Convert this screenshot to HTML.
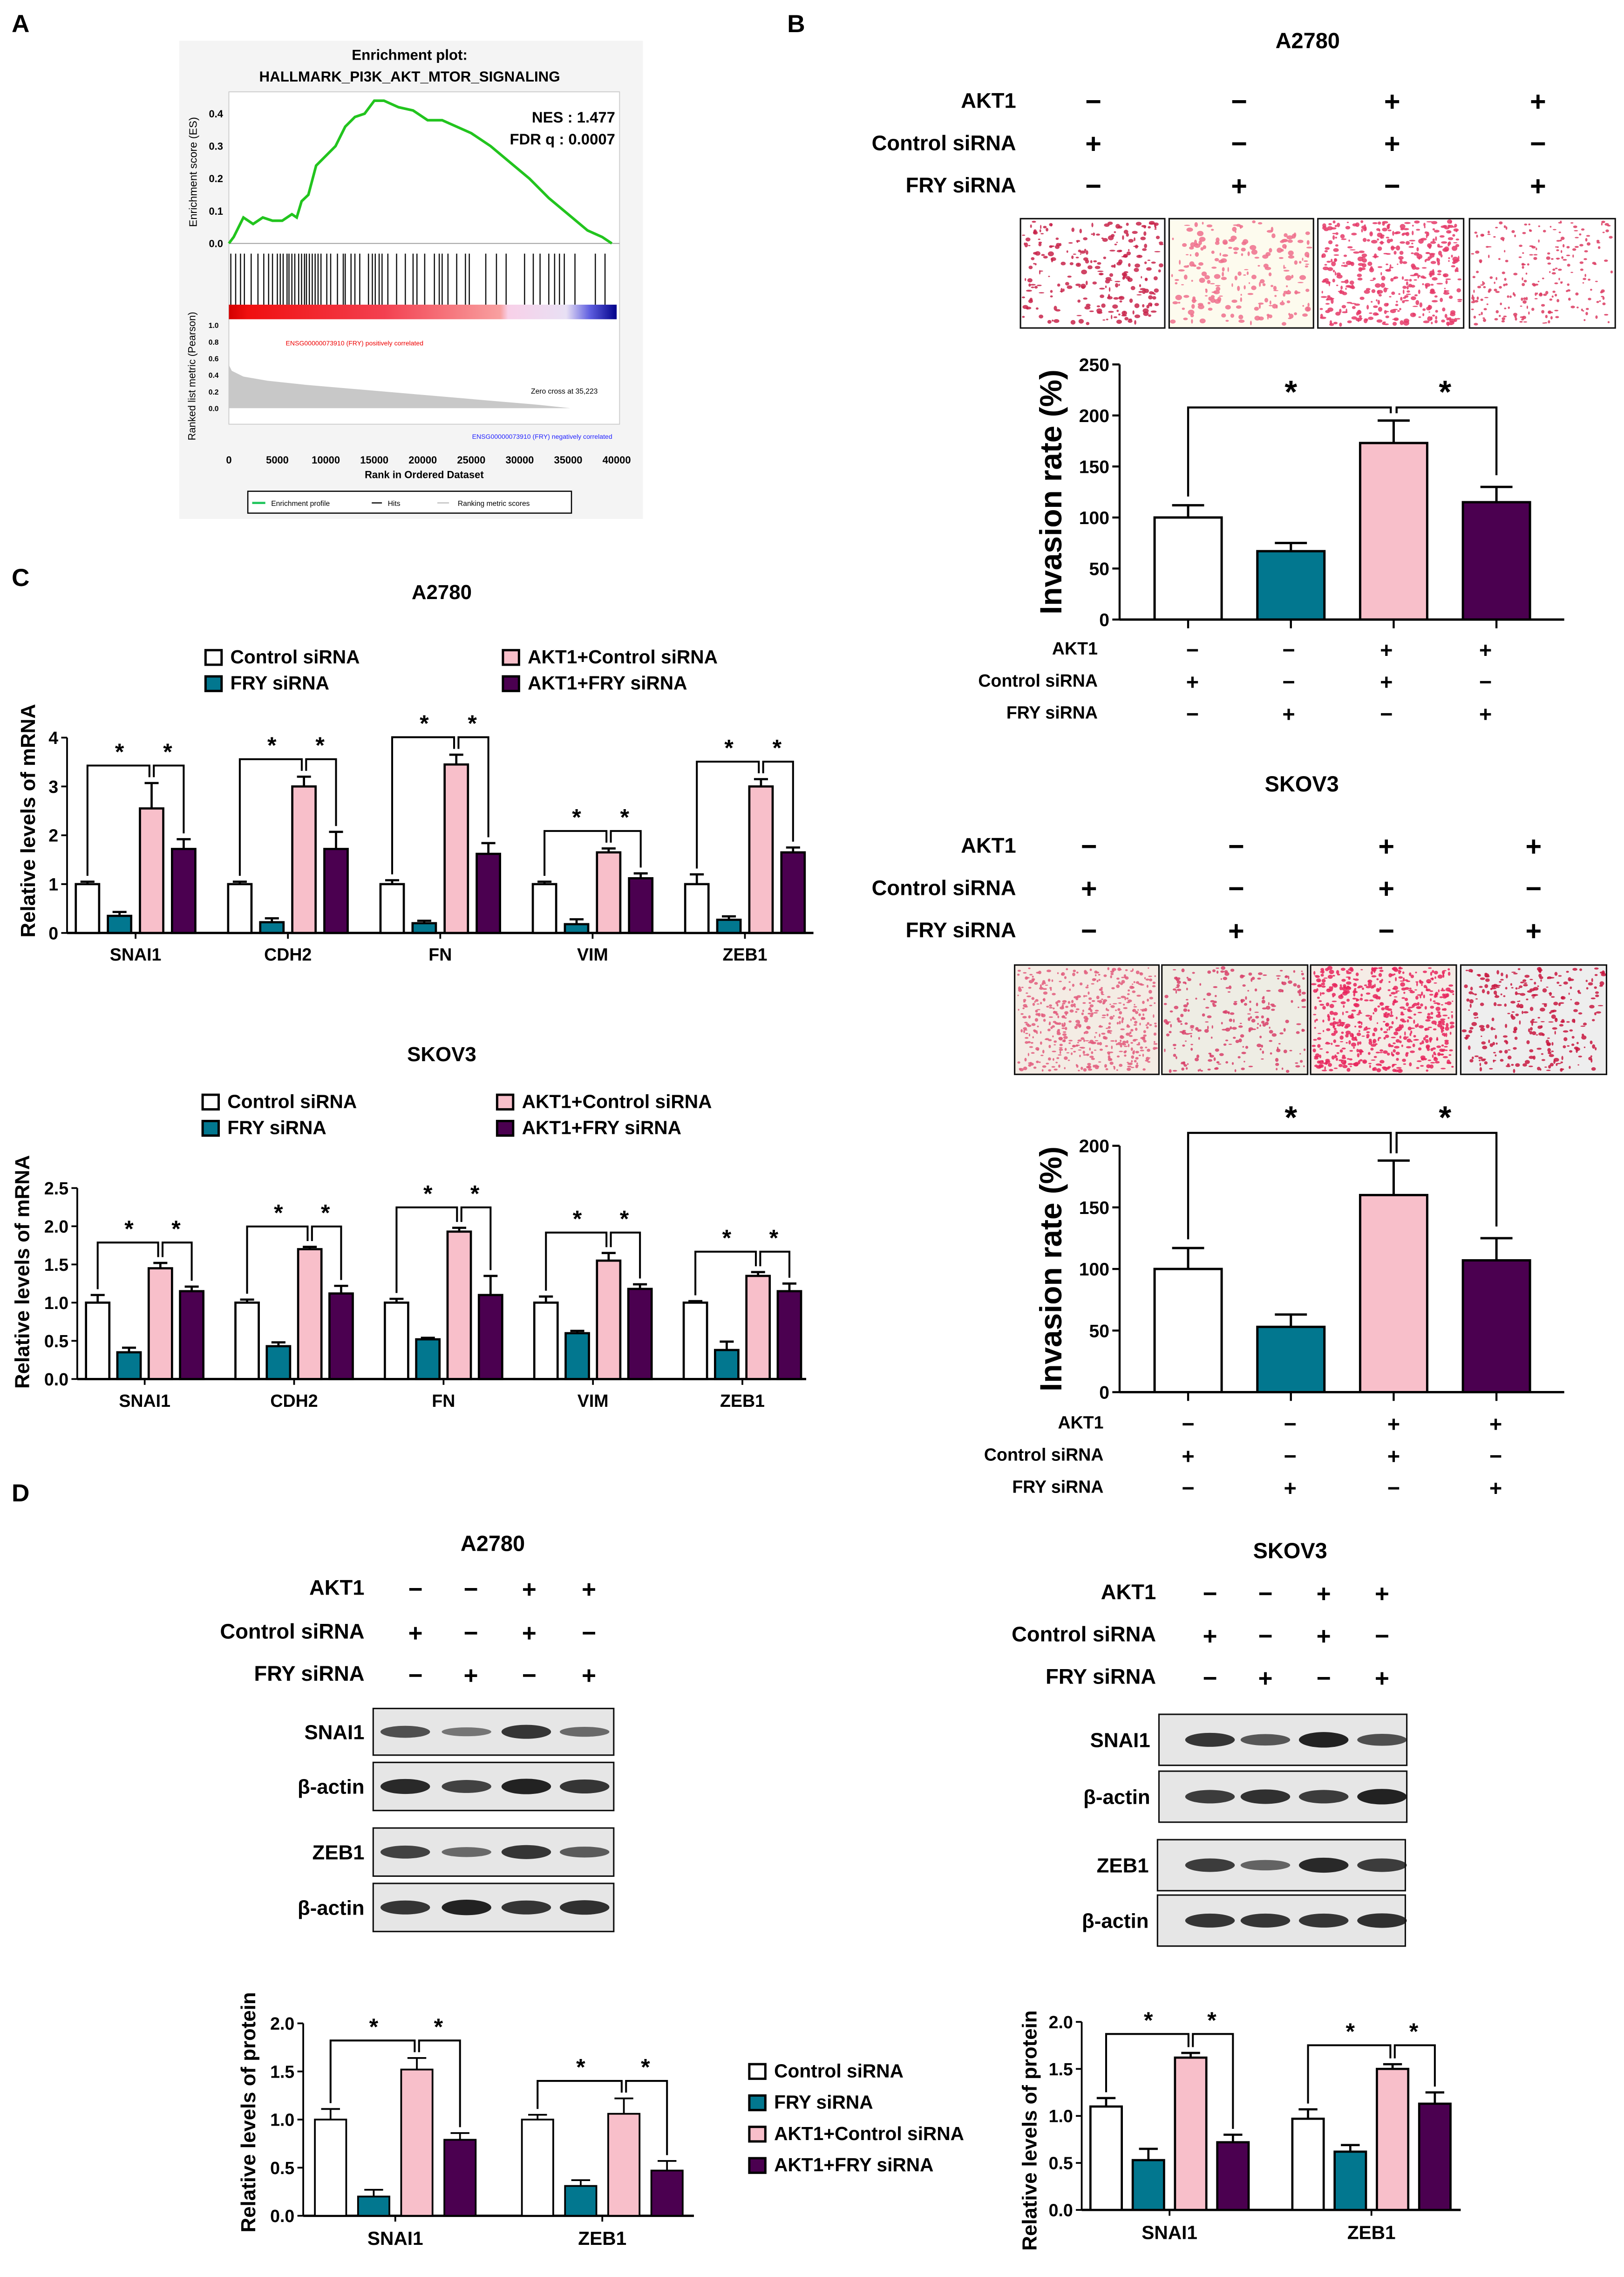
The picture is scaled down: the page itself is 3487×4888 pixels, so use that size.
<!DOCTYPE html>
<html><head><meta charset="utf-8"><style>
html,body{margin:0;padding:0;background:#fff;}
svg{display:block;}
text{font-family:"Liberation Sans",Arial,sans-serif;font-weight:bold;fill:#000;}
</style></head><body>
<svg id="fig" width="3487" height="4888" viewBox="0 0 1114 1562" preserveAspectRatio="none" xmlns="http://www.w3.org/2000/svg">
<rect width="1114" height="1562" fill="#fff"/>
<!-- panel letters -->
<text x="8" y="22" font-size="17">A</text>
<text x="540" y="22" font-size="17">B</text>
<text x="8" y="402" font-size="17">C</text>
<text x="8" y="1030" font-size="17">D</text>

<!-- Panel A GSEA -->
<g id="gsea">
<rect x="123" y="28" width="318" height="328" fill="#f4f4f4"/>
<text x="281" y="41" font-size="10" text-anchor="middle">Enrichment plot:</text>
<text x="281" y="56" font-size="10" text-anchor="middle">HALLMARK_PI3K_AKT_MTOR_SIGNALING</text>
<rect x="157" y="63" width="268" height="228" fill="#fff" stroke="#ccc" stroke-width="0.6"/>
<text x="422" y="84" font-size="10.5" text-anchor="end" font-weight="normal" style="font-weight:bold">NES : 1.477</text>
<text x="422" y="99" font-size="10.5" text-anchor="end">FDR q : 0.0007</text>
<text x="0" y="0" font-size="7.5" transform="translate(135,118) rotate(-90)" text-anchor="middle" style="font-weight:normal">Enrichment score (ES)</text>
<text x="0" y="0" font-size="7" transform="translate(134,258) rotate(-90)" text-anchor="middle" style="font-weight:normal">Ranked list metric (Pearson)</text>
<text x="196" y="237" font-size="4.5" fill="#e00" style="fill:#e00;font-weight:normal">ENSG00000073910 (FRY) positively correlated</text>
<text x="420" y="301" font-size="4.5" text-anchor="end" style="fill:#22f;font-weight:normal">ENSG00000073910 (FRY) negatively correlated</text>
<text x="410" y="270" font-size="5" text-anchor="end" style="font-weight:normal">Zero cross at 35,223</text>
<text x="291" y="328" font-size="7" text-anchor="middle">Rank in Ordered Dataset</text>
<rect x="170" y="337" width="222" height="15" fill="#fff" stroke="#000" stroke-width="0.8"/>
<line x1="173" y1="345" x2="182" y2="345" stroke="#22c55e" stroke-width="1.5"/>
<text x="186" y="347" font-size="5" style="font-weight:normal">Enrichment profile</text>
<line x1="255" y1="345" x2="262" y2="345" stroke="#333" stroke-width="1"/>
<text x="266" y="347" font-size="5" style="font-weight:normal">Hits</text>
<line x1="300" y1="345" x2="308" y2="345" stroke="#ccc" stroke-width="1"/>
<text x="314" y="347" font-size="5" style="font-weight:normal">Ranking metric scores</text>
<defs><linearGradient id="rb" x1="0" x2="1"><stop offset="0" stop-color="#d40000"/><stop offset="0.05" stop-color="#f01010"/><stop offset="0.4" stop-color="#f34050"/><stop offset="0.7" stop-color="#f8a0a0"/><stop offset="0.72" stop-color="#f8d0e8"/><stop offset="0.87" stop-color="#e8e0f4"/><stop offset="0.93" stop-color="#6060e0"/><stop offset="1" stop-color="#00008a"/></linearGradient></defs>
<rect x="157" y="209" width="266" height="10" fill="url(#rb)"/>
</g>

<!-- Panel B titles / treatment grids -->
<text x="897" y="33" font-size="15" text-anchor="middle">A2780</text>
<text x="893" y="543" font-size="15" text-anchor="middle">SKOV3</text>
<text x="303" y="411" font-size="14" text-anchor="middle">A2780</text>
<text x="303" y="728" font-size="14" text-anchor="middle">SKOV3</text>
<text x="338" y="1064" font-size="15" text-anchor="middle">A2780</text>
<text x="885" y="1069" font-size="15" text-anchor="middle">SKOV3</text>
<g id="grids"></g>
<g id="charts"></g>
<g id="micro"></g>
<g id="blots"></g>
</svg>
<script>
// ---------- DATA ----------
const groupNamesC = ["SNAI1","CDH2","FN","VIM","ZEB1"];
const seriesNames = ["Control siRNA","FRY siRNA","AKT1+Control siRNA","AKT1+FRY siRNA"];
const c1Ctrl = [1,1,1,1,1];
const c1Fry  = [0.35,0.22,0.2,0.18,0.27];
const c1Akt  = [2.55,3.0,3.45,1.65,3.0];
const c1Akf  = [1.72,1.72,1.62,1.12,1.65];
const c1CtrlErr=[0.05,0.05,0.08,0.05,0.2];
const c1FryErr=[0.08,0.08,0.05,0.1,0.07];
const c1AktErr=[0.52,0.2,0.2,0.08,0.15];
const c1AkfErr=[0.2,0.35,0.22,0.1,0.1];
const c1Ticks=[0,1,2,3,4];
const c2Ctrl = [1,1,1,1,1];
const c2Fry  = [0.35,0.43,0.52,0.6,0.38];
const c2Akt  = [1.45,1.7,1.93,1.55,1.35];
const c2Akf  = [1.15,1.12,1.1,1.18,1.15];
const c2CtrlErr=[0.1,0.04,0.05,0.08,0.02];
const c2FryErr=[0.06,0.05,0.02,0.03,0.11];
const c2AktErr=[0.07,0.03,0.05,0.1,0.05];
const c2AkfErr=[0.06,0.1,0.25,0.06,0.1];
const c2Ticks=[0,0.5,1.0,1.5,2.0,2.5];
const b1Values=[100,67,173,115];
const b1Errors=[12,8,22,15];
const b1Ticks=[0,50,100,150,200,250];
const b2Values=[100,53,160,107];
const b2Errors=[17,10,28,18];
const b2Ticks=[0,50,100,150,200];
const groupNamesD=["SNAI1","ZEB1"];
const d1Ctrl=[1.0,1.0], d1Fry=[0.2,0.31], d1Akt=[1.52,1.06], d1Akf=[0.79,0.47];
const d1CtrlErr=[0.11,0.05], d1FryErr=[0.07,0.06], d1AktErr=[0.12,0.16], d1AkfErr=[0.07,0.1];
const d2Ctrl=[1.1,0.97], d2Fry=[0.53,0.62], d2Akt=[1.62,1.5], d2Akf=[0.72,1.13];
const d2CtrlErr=[0.09,0.1], d2FryErr=[0.12,0.07], d2AktErr=[0.05,0.05], d2AkfErr=[0.08,0.12];
const dTicks=[0,0.5,1.0,1.5,2.0];
const esRank=[0,500,1000,1500,2500,3500,4500,5500,6500,7000,7500,8200,9000,10000,11000,12000,13000,14000,15000,16000,17500,19000,20500,22000,23500,25000,27000,29000,31000,33000,35000,37000,38500,39500];
const esValue=[0,0.02,0.05,0.08,0.06,0.08,0.07,0.07,0.09,0.08,0.13,0.15,0.24,0.27,0.30,0.36,0.39,0.40,0.44,0.44,0.42,0.41,0.38,0.38,0.36,0.34,0.30,0.25,0.20,0.14,0.09,0.04,0.02,0];
const hitRanks=[200,700,1200,1600,2300,3000,3600,4100,4500,5000,5300,5600,6000,6200,6500,6800,7200,7500,7800,8000,8300,8600,8900,9200,9500,10100,10500,11200,11800,12000,12600,13000,13500,14400,14800,15100,15500,15800,16400,17300,18200,19000,19400,20200,21200,21700,22000,22600,23500,24400,24800,26500,27600,28600,30500,31400,32100,33000,33600,34100,34600,35700,37800,38800];
const metricRank=[0,300,1500,4000,8000,12000,16000,20000,24000,28000,32000,35223,38800];
const metricValue=[0.52,0.45,0.38,0.33,0.28,0.24,0.2,0.16,0.12,0.08,0.04,0,0];

const COLORS=["#ffffff","#02778f","#f8bfca","#4b0050"];
const NS="http://www.w3.org/2000/svg";
function mk(tag,attrs,parent){const e=document.createElementNS(NS,tag);for(const k in attrs)e.setAttribute(k,attrs[k]);parent.appendChild(e);return e;}
const charts=document.getElementById('charts');

// ---------- GSEA ----------
(function(){
 const g=document.getElementById('gsea');
 const xr=r=>157+r/40000*266;
 const yEs=v=>167-v/0.4*89;
 const yM=v=>280-v*57;
 [0,0.1,0.2,0.3,0.4].forEach(t=>{const tx=mk('text',{x:153,y:yEs(t)+2.5,'font-size':7,'text-anchor':'end'},g);tx.textContent=t.toFixed(1);
  });
 mk('line',{x1:157,y1:yEs(0),x2:425,y2:yEs(0),stroke:'#999','stroke-width':0.6},g);
 [0,0.2,0.4,0.6,0.8,1.0].forEach(t=>{const tx=mk('text',{x:150,y:yM(t)+2,'font-size':5,'text-anchor':'end'},g);tx.textContent=t.toFixed(1);
  });
 [0,5000,10000,15000,20000,25000,30000,35000,40000].forEach(t=>{const tx=mk('text',{x:xr(t),y:318,'font-size':7,'text-anchor':'middle'},g);tx.textContent=t;
  });
 hitRanks.forEach(r=>{const l=mk('line',{x1:xr(r),y1:174,x2:xr(r),y2:209,stroke:'#111','stroke-width':0.8},g);
  });
 let d='M'+xr(metricRank[0])+','+yM(0);
 metricRank.forEach((r,i)=>{d+=' L'+xr(r)+','+yM(metricValue[i]);});
 d+=' L'+xr(metricRank[metricRank.length-1])+','+yM(0)+'Z';
 const a=mk('path',{d:d,fill:'#c8c8c8'},g);
 
 const p=mk('polyline',{points:esRank.map((r,i)=>xr(r)+','+yEs(esValue[i])).join(' '),fill:'none',stroke:'#22c41e','stroke-width':1.8},g);
 
})();

// ---------- generic grouped bar chart ----------
function grouped(cfg){
 const g=mk('g',{},charts);
 
 
 const y=v=>cfg.y0-(v/cfg.ymax)*(cfg.y0-cfg.yTop);
 const sw=cfg.sw||1.5;
 // axes
 mk('line',{x1:cfg.ax,y1:cfg.yTop,x2:cfg.ax,y2:cfg.y0,stroke:'#000','stroke-width':1.2},g);
 mk('line',{x1:cfg.ax,y1:cfg.y0,x2:cfg.axEnd,y2:cfg.y0,stroke:'#000','stroke-width':1.6},g);
 cfg.ticks.forEach(t=>{mk('line',{x1:cfg.ax-4,y1:y(t),x2:cfg.ax,y2:y(t),stroke:'#000','stroke-width':1.2},g);
  const tx=mk('text',{x:cfg.ax-6,y:y(t)+cfg.tfs*0.36,'font-size':cfg.tfs,'text-anchor':'end'},g);
  tx.textContent=cfg.tickFmt?cfg.tickFmt(t):t;
  });
 const yt=mk('text',{'font-size':cfg.yfs,'text-anchor':'middle',transform:`translate(${cfg.ytx},${(cfg.y0+cfg.yTop)/2+cfg.ytdy}) rotate(-90)`},g);
 yt.textContent=cfg.ytitle;
 const ser=cfg.series, errs=cfg.errs;
 cfg.cats.forEach((c,ci)=>{
  const gx=cfg.gx0+ci*cfg.gp;
  const xs=[0,1,2,3].map(s=>gx+s*cfg.bp);
  xs.forEach((bx,s)=>{
   const v=ser[s][ci], e=errs[s][ci];
   const r=mk('rect',{x:bx,y:y(v),width:cfg.bw,height:cfg.y0-y(v),fill:COLORS[s],stroke:'#000','stroke-width':sw},g);
   
   const cx=bx+cfg.bw/2;
   mk('line',{x1:cx,y1:y(v),x2:cx,y2:y(v+e),stroke:'#000','stroke-width':sw},g);
   mk('line',{x1:cx-cfg.bw*0.3,y1:y(v+e),x2:cx+cfg.bw*0.3,y2:y(v+e),stroke:'#000','stroke-width':sw},g);
  });
  // tick & label
  const mid=(xs[0]+xs[3]+cfg.bw)/2;
  mk('line',{x1:mid,y1:cfg.y0,x2:mid,y2:cfg.y0+4,stroke:'#000','stroke-width':1.2},g);
  const lb=mk('text',{x:mid,y:cfg.y0+cfg.lfs+7,'font-size':cfg.lfs,'text-anchor':'middle'},g);
  lb.textContent=c;
  // significance brackets
  const tops=[0,1,2,3].map(s=>y(ser[s][ci]+errs[s][ci]));
  const by=Math.min(...tops)-cfg.brk;
  const c0=xs[0]+cfg.bw/2,c2=xs[2]+cfg.bw/2,c3=xs[3]+cfg.bw/2;
  const bl=cfg.bsw||1.3;
  mk('polyline',{points:`${c0},${tops[0]-4} ${c0},${by} ${c2-1.5},${by} ${c2-1.5},${tops[2]-4}`,fill:'none',stroke:'#000','stroke-width':bl},g);
  mk('polyline',{points:`${c2+1.5},${tops[2]-4} ${c2+1.5},${by} ${c3},${by} ${c3},${tops[3]-4}`,fill:'none',stroke:'#000','stroke-width':bl},g);
  [(c0+c2)/2,(c2+c3)/2].forEach(sx=>{const st=mk('text',{x:sx,y:by-cfg.sdy,'font-size':cfg.sfs,'text-anchor':'middle'},g);st.textContent='*';
   });
 });
}
grouped({name:'c-a2780-mrna-chart',cats:groupNamesC,series:[c1Ctrl,c1Fry,c1Akt,c1Akf],errs:[c1CtrlErr,c1FryErr,c1AktErr,c1AkfErr],
 ticks:c1Ticks,ymax:4,y0:640,yTop:506,ax:46,axEnd:558,gx0:52,gp:104.5,bp:22,bw:16,tfs:12,lfs:12,yfs:14,ytx:24,ytdy:-10,ytitle:'Relative levels of mRNA',brk:12,sdy:4,sfs:16});
grouped({name:'c-skov3-mrna-chart',cats:groupNamesC,series:[c2Ctrl,c2Fry,c2Akt,c2Akf],errs:[c2CtrlErr,c2FryErr,c2AktErr,c2AkfErr],
 ticks:c2Ticks,ymax:2.5,y0:946,yTop:815,ax:53,axEnd:553,gx0:59,gp:102.5,bp:21.5,bw:16,tfs:12,lfs:12,yfs:14,ytx:20,ytdy:-8,ytitle:'Relative levels of mRNA',tickFmt:t=>t.toFixed(1),brk:14,sdy:4,sfs:16});
grouped({name:'d-a2780-protein-chart',cats:groupNamesD,series:[d1Ctrl,d1Fry,d1Akt,d1Akf],errs:[d1CtrlErr,d1FryErr,d1AktErr,d1AkfErr],
 ticks:dTicks,ymax:2,y0:1520,yTop:1388,ax:208,axEnd:476,gx0:216,gp:142,bp:29.6,bw:21.5,tfs:12,lfs:13,yfs:14,ytx:175,ytdy:-5,ytitle:'Relative levels of protein',tickFmt:t=>t.toFixed(1),brk:12,sdy:4,sfs:16,sw:1.2});
grouped({name:'d-skov3-protein-chart',cats:groupNamesD,series:[d2Ctrl,d2Fry,d2Akt,d2Akf],errs:[d2CtrlErr,d2FryErr,d2AktErr,d2AkfErr],
 ticks:dTicks,ymax:2,y0:1516,yTop:1387,ax:742,axEnd:1002,gx0:748,gp:138.5,bp:29,bw:21.5,tfs:12,lfs:13,yfs:14,ytx:711,ytdy:10,ytitle:'Relative levels of protein',tickFmt:t=>t.toFixed(1),brk:13,sdy:4,sfs:16,sw:1.5});

// legends
function legend(x,y,rowH,colW,cols,fs,name){
 const g=mk('g',{},charts);
 
 seriesNames.forEach((s,i)=>{const cx=x+(i>=cols?0:0)+ (cols===2? (i<2?0:colW):0);
  const cy=y+(cols===2? (i%2)*rowH : i*rowH);
  const r=mk('rect',{x:cx,y:cy-9,width:11,height:10,fill:COLORS[i],stroke:'#000','stroke-width':1.6},g);
  
  const t=mk('text',{x:cx+17,y:cy,'font-size':fs},g);t.textContent=s;
  });
}
legend(141,455,18,204,2,13,'c-a2780-legend');
legend(139,760,18,202,2,13,'c-skov3-legend');
legend(514,1425,21.5,0,1,13,'d-legend');

// invasion charts
function invasion(cfg){
 const g=mk('g',{},charts);
 
 const y=v=>cfg.y0-(v/cfg.ymax)*(cfg.y0-cfg.yTop);
 mk('line',{x1:cfg.ax,y1:cfg.yTop,x2:cfg.ax,y2:cfg.y0,stroke:'#000','stroke-width':1.4},g);
 mk('line',{x1:cfg.ax,y1:cfg.y0,x2:1073,y2:cfg.y0,stroke:'#000','stroke-width':1.6},g);
 cfg.ticks.forEach(t=>{mk('line',{x1:cfg.ax-5,y1:y(t),x2:cfg.ax,y2:y(t),stroke:'#000','stroke-width':1.4},g);
  const tx=mk('text',{x:cfg.ax-7,y:y(t)+4.5,'font-size':12.5,'text-anchor':'end'},g);tx.textContent=t;
  });
 const yt=mk('text',{'font-size':21,'text-anchor':'middle',transform:`translate(${cfg.ax-40},${(cfg.y0+cfg.yTop)/2}) rotate(-90)`},g);
 yt.textContent='Invasion rate (%)';
 const xs=[792,862.5,933,1003.5], bw=46;
 cfg.vals.forEach((v,i)=>{
  const r=mk('rect',{x:xs[i],y:y(v),width:bw,height:cfg.y0-y(v),fill:COLORS[i],stroke:'#000','stroke-width':1.6},g);
  
  const cx=xs[i]+bw/2,e=cfg.errs[i];
  mk('line',{x1:cx,y1:y(v),x2:cx,y2:y(v+e),stroke:'#000','stroke-width':1.6},g);
  mk('line',{x1:cx-11,y1:y(v+e),x2:cx+11,y2:y(v+e),stroke:'#000','stroke-width':1.6},g);
  mk('line',{x1:cx,y1:cfg.y0,x2:cx,y2:cfg.y0+6,stroke:'#000','stroke-width':1.4},g);
 });
 const tops=cfg.vals.map((v,i)=>y(v+cfg.errs[i]));
 const by=Math.min(...tops)-cfg.brk;
 const c=xs.map(x=>x+bw/2);
 mk('polyline',{points:`${c[0]},${tops[0]-6} ${c[0]},${by} ${c[2]-2},${by} ${c[2]-2},${tops[2]-5}`,fill:'none',stroke:'#000','stroke-width':1.4},g);
 mk('polyline',{points:`${c[2]+2},${tops[2]-5} ${c[2]+2},${by} ${c[3]},${by} ${c[3]},${tops[3]-8}`,fill:'none',stroke:'#000','stroke-width':1.4},g);
 [(c[0]+c[2])/2,(c[2]+c[3])/2].forEach(sx=>{const st=mk('text',{x:sx,y:by-3,'font-size':22,'text-anchor':'middle'},g);st.textContent='*';
  });
}
invasion({name:'b-a2780-invasion-chart',vals:b1Values,errs:b1Errors,ticks:b1Ticks,ymax:250,y0:425,yTop:250,ax:768,brk:9});
invasion({name:'b-skov3-invasion-chart',vals:b2Values,errs:b2Errors,ticks:b2Ticks,ymax:200,y0:955,yTop:786,ax:768,brk:19});

// treatment grids
const akt=["−","−","+","+"], ctl=["+","−","+","−"], fry=["−","+","−","+"];
const grids=document.getElementById('grids');
function grid(labelX,rows,xs,fs,sfs,name){
 const g=mk('g',{},grids);
 const labs=["AKT1","Control siRNA","FRY siRNA"], sig=[akt,ctl,fry];
 rows.forEach((ry,ri)=>{const t=mk('text',{x:labelX,y:ry,'font-size':fs,'text-anchor':'end'},g);t.textContent=labs[ri];
  
  xs.forEach((x,i)=>{const s=mk('text',{x:x,y:ry+2,'font-size':sfs,'text-anchor':'middle'},g);s.textContent=sig[ri][i];
   });});
}
grid(697,[74,103,132],[750,850,955,1055],14.5,19,'b-a2780-treatments-top');
grid(753,[449,471,493],[818,884,951,1019],12,15,'b-a2780-treatments-bottom');
grid(697,[585,614,643],[747,848,951,1052],14.5,19,'b-skov3-treatments-top');
grid(757,[980,1002,1024],[815,885,956,1026],12,15,'b-skov3-treatments-bottom');
grid(250,[1094,1124,1153],[285,323,363,404],14.5,17,'d-a2780-treatments');
grid(793,[1097,1126,1155],[830,868,908,948],14.5,17,'d-skov3-treatments');

// micrographs (texture only)
const micro=document.getElementById('micro');
let seed=7;function rnd(){seed=(seed*16807)%2147483647;return seed/2147483647;}
const mPanels=[[700,150,99,75,'#fff','#c8234a',260,1.6],[802,150,99,75,'#fdfbee','#ee6f8c',220,1.8],[904,150,100,75,'#fff','#e53a68',420,1.7],[1008,150,100,75,'#fff','#dc3b62',240,1.0],
 [696,662,99,75,'#f4ece4','#e25c7c',520,1.1],[797,662,100,75,'#eeede4','#d8406a',260,1.2],[899,662,100,75,'#f5ece6','#e8245c',600,1.4],[1002,662,100,75,'#eeeeee','#c81840',300,1.4]];
mPanels.forEach((p,pi)=>{const g=mk('g',{},micro);
 
 mk('rect',{x:p[0],y:p[1],width:p[2],height:p[3],fill:p[4]},g);
 for(let i=0;i<p[6];i++){mk('ellipse',{cx:p[0]+2+rnd()*(p[2]-4),cy:p[1]+2+rnd()*(p[3]-4),rx:0.5+rnd()*p[7],ry:0.4+rnd()*p[7]*0.8,fill:p[5],opacity:0.85},g);}
 mk('rect',{x:p[0],y:p[1],width:p[2],height:p[3],fill:'none',stroke:'#111','stroke-width':1},g);});

// western blots
const blots=document.getElementById('blots');
function blot(x,y,w,h,lanes,ints,label,name){
 const g=mk('g',{},blots);
 mk('rect',{x:x,y:y,width:w,height:h,fill:'#e6e6e6',stroke:'#111','stroke-width':1},g);
 lanes.forEach((lx,i)=>{mk('ellipse',{cx:lx,cy:y+h/2,rx:17,ry:2+ints[i]*3.5,fill:'#111',opacity:0.35+ints[i]*0.6},g);});
 const t=mk('text',{x:x-6,y:y+h/2+5,'font-size':14,'text-anchor':'end'},g);t.textContent=label;
 
}
const L1=[278,320,361,401],L2=[830,868,908,948];
blot(256,1172,165,32,L1,[0.6,0.3,0.8,0.4],'SNAI1','blot-a2780-snai1');
blot(256,1209,165,33,L1,[0.9,0.7,0.95,0.8],'β-actin','blot-a2780-actin1');
blot(256,1254,165,33,L1,[0.7,0.4,0.8,0.5],'ZEB1','blot-a2780-zeb1');
blot(256,1292,165,33,L1,[0.8,0.95,0.8,0.85],'β-actin','blot-a2780-actin2');
blot(795,1176,170,35,L2,[0.8,0.55,0.95,0.6],'SNAI1','blot-skov3-snai1');
blot(795,1215,170,35,L2,[0.75,0.85,0.75,0.95],'β-actin','blot-skov3-actin1');
blot(794,1262,170,35,L2,[0.75,0.45,0.9,0.75],'ZEB1','blot-skov3-zeb1');
blot(794,1300,170,35,L2,[0.8,0.8,0.8,0.85],'β-actin','blot-skov3-actin2');
</script>
</body></html>
